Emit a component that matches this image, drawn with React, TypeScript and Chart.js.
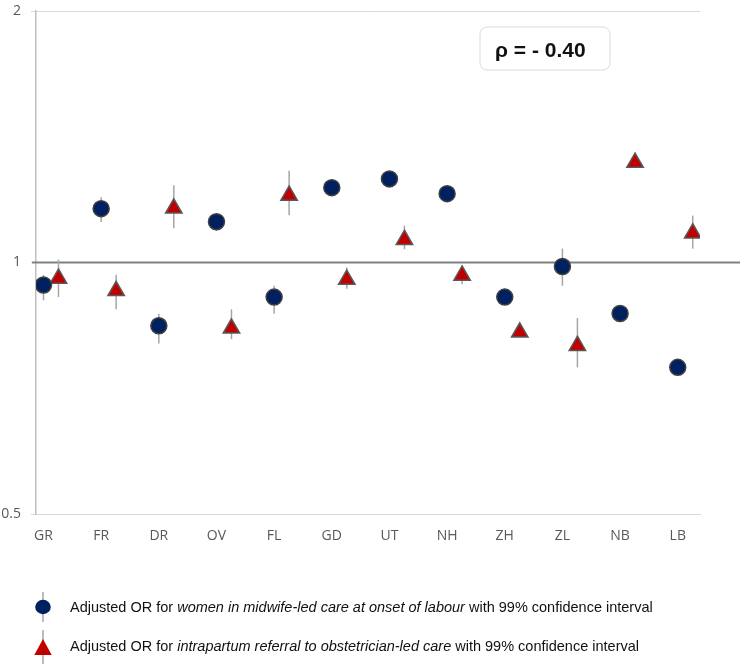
import React, { useEffect, useRef } from 'react';
import { Chart, registerables } from 'chart.js';

Chart.register(...registerables);

const categories = ['GR', 'FR', 'DR', 'OV', 'FL', 'GD', 'UT', 'NH', 'ZH', 'ZL', 'NB', 'LB'];

const midwifeOR = [0.94, 1.16, 0.84, 1.119, 0.909, 1.229, 1.259, 1.209, 0.909, 0.989, 0.869, 0.749];
const midwifeLow = [0.901, 1.118, 0.8, 1.091, 0.868, 1.21, 1.24, 1.19, 0.89, 0.938, 0.855, 0.735];
const midwifeHigh = [0.966, 1.197, 0.868, 1.143, 0.938, 1.25, 1.28, 1.23, 0.93, 1.039, 0.885, 0.765];

const referralOR = [0.957, 0.925, 1.161, 0.834, 1.203, 0.954, 1.065, 0.965, 0.825, 0.795, 1.317, 1.084];
const referralLow = [0.909, 0.879, 1.099, 0.81, 1.139, 0.93, 1.037, 0.942, 0.815, 0.749, 1.3, 1.039];
const referralHigh = [1.008, 0.967, 1.237, 0.879, 1.288, 0.986, 1.107, 0.99, 0.845, 0.858, 1.345, 1.138];

const yTicks = [0.5, 1, 2];
const referenceOR = 1;
const rhoLabel = 'ρ = - 0.40';

const legendItems = [
  { pre: 'Adjusted OR for ', italic: 'women in midwife-led care at onset of labour', post: ' with 99% confidence interval' },
  { pre: 'Adjusted OR for ', italic: 'intrapartum referral to obstetrician-led care', post: ' with 99% confidence interval' },
];

const TRI_OFFSET = 0.26;
const NAVY = '#002060';
const RED = '#C00000';
const BAR_COLOR = '#A6A6A6';

const errorBarPlugin = {
  id: 'errorBars',
  beforeDatasetsDraw(chart: any) {
    const { ctx, scales, chartArea, width } = chart;
    const xs = scales.x;
    const ys = scales.y;
    ctx.save();
    // reference line at OR = 1
    const yr = ys.getPixelForValue(referenceOR);
    ctx.strokeStyle = '#808080';
    ctx.lineWidth = 2;
    ctx.beginPath();
    ctx.moveTo(chartArea.left - 4, yr);
    ctx.lineTo(width, yr);
    ctx.stroke();

    ctx.strokeStyle = BAR_COLOR;
    ctx.lineWidth = 1.5;
    const draw = (lo: number[], hi: number[], off: number) => {
      lo.forEach((l, i) => {
        const x = xs.getPixelForValue(i + off);
        ctx.beginPath();
        ctx.moveTo(x, ys.getPixelForValue(l));
        ctx.lineTo(x, ys.getPixelForValue(hi[i]));
        ctx.stroke();
      });
    };
    draw(midwifeLow, midwifeHigh, 0);
    draw(referralLow, referralHigh, TRI_OFFSET);
    ctx.restore();
  },
};

const annotationPlugin = {
  id: 'annotations',
  afterDraw(chart: any) {
    const { ctx } = chart;
    ctx.save();
    // rho box
    const bx = 480, by = 27, bw = 130, bh = 43, r = 7;
    ctx.beginPath();
    ctx.moveTo(bx + r, by);
    ctx.arcTo(bx + bw, by, bx + bw, by + bh, r);
    ctx.arcTo(bx + bw, by + bh, bx, by + bh, r);
    ctx.arcTo(bx, by + bh, bx, by, r);
    ctx.arcTo(bx, by, bx + bw, by, r);
    ctx.closePath();
    ctx.fillStyle = '#FFFFFF';
    ctx.fill();
    ctx.strokeStyle = '#D9D9D9';
    ctx.lineWidth = 1;
    ctx.stroke();
    ctx.fillStyle = '#111111';
    ctx.font = 'bold 21px "Liberation Sans", Arial, sans-serif';
    ctx.textBaseline = 'middle';
    ctx.textAlign = 'left';
    ctx.fillText(rhoLabel, 495, 51);

    // legend
    const rows = [608, 647];
    ctx.lineWidth = 1.5;
    ctx.strokeStyle = BAR_COLOR;
    // item 1 marker
    ctx.beginPath();
    ctx.moveTo(43, 592);
    ctx.lineTo(43, 622);
    ctx.stroke();
    ctx.beginPath();
    ctx.ellipse(43, 607, 7.8, 7.2, 0, 0, Math.PI * 2);
    ctx.fillStyle = NAVY;
    ctx.fill();
    // item 2 marker
    ctx.beginPath();
    ctx.moveTo(43, 630);
    ctx.lineTo(43, 664);
    ctx.stroke();
    ctx.beginPath();
    ctx.moveTo(43, 639);
    ctx.lineTo(51.7, 655);
    ctx.lineTo(34.3, 655);
    ctx.closePath();
    ctx.fillStyle = RED;
    ctx.fill();

    ctx.fillStyle = '#111111';
    ctx.textBaseline = 'middle';
    const fam = '"Liberation Sans", Arial, sans-serif';
    legendItems.forEach((it, k) => {
      let x = 70;
      const y = rows[k];
      ctx.font = `14.5px ${fam}`;
      ctx.fillText(it.pre, x, y);
      x += ctx.measureText(it.pre).width;
      ctx.font = `italic 14.5px ${fam}`;
      ctx.fillText(it.italic, x, y);
      x += ctx.measureText(it.italic).width;
      ctx.font = `14.5px ${fam}`;
      ctx.fillText(it.post, x, y);
    });
    ctx.restore();
  },
};

export default function App() {
  const ref = useRef<HTMLCanvasElement>(null);
  useEffect(() => {
    document.body.style.margin = '0';
    document.body.style.overflow = 'hidden';
    const canvas = ref.current;
    if (!canvas) return;
    const chart = new Chart(canvas, {
      type: 'scatter',
      data: {
        datasets: [
          {
            label: 'midwife',
            data: midwifeOR.map((v, i) => ({ x: i, y: v })),
            pointStyle: 'circle',
            pointRadius: 8,
            backgroundColor: NAVY,
            borderColor: '#404040',
            borderWidth: 1.5,
          },
          {
            label: 'referral',
            data: referralOR.map((v, i) => ({ x: i + TRI_OFFSET, y: v })),
            pointStyle: 'triangle',
            pointRadius: 9.5,
            backgroundColor: RED,
            borderColor: '#595959',
            borderWidth: 1.5,
          },
        ],
      },
      options: {
        responsive: false,
        animation: false,
        layout: { padding: { top: 7, right: 40, left: 0, bottom: 0 } },
        plugins: { legend: { display: false }, tooltip: { enabled: false } },
        scales: {
          x: {
            type: 'linear',
            min: -0.13,
            max: 11.386,
            afterBuildTicks: (s: any) => {
              s.ticks = categories.map((_, i) => ({ value: i }));
            },
            afterFit: (s: any) => {
              s.height = 151;
              s.paddingLeft = 0;
              s.paddingRight = 0;
            },
            grid: { display: false, drawTicks: false },
            border: { display: true, color: '#D9D9D9', width: 1 },
            ticks: {
              callback: (v: any) => categories[v] ?? '',
              color: '#595959',
              font: { family: '"Open Sans", sans-serif', size: 14 },
              padding: 14,
              maxRotation: 0,
              autoSkip: false,
            },
          },
          y: {
            type: 'logarithmic',
            min: 0.5,
            max: 2,
            afterBuildTicks: (s: any) => {
              s.ticks = yTicks.map((v) => ({ value: v }));
            },
            afterFit: (s: any) => {
              s.width = 36;
              s.paddingTop = 0;
              s.paddingBottom = 0;
            },
            grid: {
              color: '#D9D9D9',
              lineWidth: 1,
              tickLength: 5,
            },
            border: { color: '#BFBFBF', width: 1.5 },
            ticks: {
              callback: (v: any) => String(v),
              color: '#595959',
              font: { family: '"Open Sans", sans-serif', size: 14 },
              padding: 10,
            },
          },
        },
      },
      plugins: [errorBarPlugin, annotationPlugin],
    } as any);
    return () => chart.destroy();
  }, []);
  return (
    <div style={{ width: 740, height: 665 }}>
      <canvas ref={ref} width={740} height={665} style={{ display: 'block' }} />
    </div>
  );
}
